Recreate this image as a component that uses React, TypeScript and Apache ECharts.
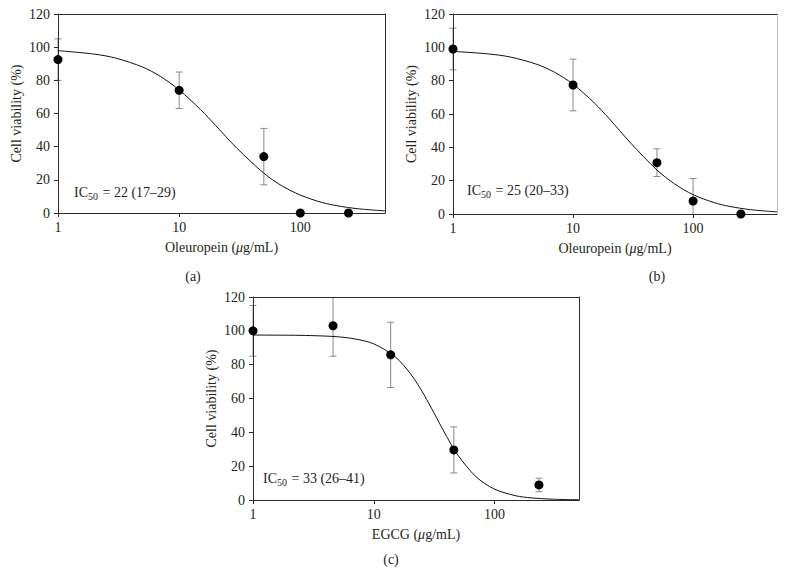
import React, { useEffect, useRef } from "react";
import * as echarts from "echarts";

// Measured points (concentration µg/mL, viability %, error ±)
const xA = [1, 10, 50, 100, 250];
const yA = [92.5, 74, 34, 0, 0];
const errA = [12.5, 11, 17, 0, 0];

const xB = [1, 10, 50, 100, 250];
const yB = [99, 77.4, 30.8, 7.8, 0];
const errB = [12.5, 15.5, 8.3, 13.5, 0];

const xC = [1, 4.6, 13.8, 46, 233];
const yC = [100, 103, 85.8, 29.6, 8.9];
const errC = [15, 18, 19.3, 13.6, 4];

// Fitted curves
const curveXAB = [1, 2, 3, 5, 7, 10, 15, 20, 30, 50, 70, 100, 150, 200, 300, 500];
const curveA = [97.9, 95.8, 93.4, 88.0, 82.4, 74.2, 62.4, 52.8, 39.0, 24.0, 16.5, 10.8, 6.4, 4.4, 2.55, 1.27];
const curveB = [97.6, 96.0, 94.2, 89.8, 85.1, 77.9, 66.7, 57.2, 42.8, 26.4, 18.1, 11.6, 6.8, 4.6, 2.6, 1.26];
const curveXC = [1, 2, 3, 5, 7, 10, 15, 20, 25, 30, 40, 50, 70, 100, 150, 200, 300, 500];
const curveC = [97.5, 97.4, 97.2, 96.5, 95.2, 92.3, 84.7, 74.9, 64.4, 54.3, 37.7, 26.3, 13.8, 6.4, 2.5, 1.27, 0.49, 0.14];

const xTickValues = [1, 10, 100];
const yTickValues = [0, 20, 40, 60, 80, 100, 120];

const xNames = ["Oleuropein", "Oleuropein", "EGCG"];
const ic50Texts = ["22 (17–29)", "25 (20–33)", "33 (26–41)"];
const panelLabels = ["(a)", "(b)", "(c)"];

const FONT = "'Liberation Serif', 'Times New Roman', serif";
const FS = 14;
const TEXT = "#231f20";
const AXIS = "#2b2b2b";

export default function App() {
  const ref = useRef<HTMLDivElement>(null);

  useEffect(() => {
    if (!ref.current) return;
    const chart = echarts.init(ref.current, undefined, { renderer: "svg" });

    const grids = [
      { left: 58, top: 14, width: 327, height: 199 },
      { left: 453, top: 14, width: 324, height: 200 },
      { left: 253, top: 297, width: 326, height: 203 },
    ];
    const rightBorder = [AXIS, "#bdbdbd", AXIS];

    const xAxis: any[] = [];
    const yAxis: any[] = [];
    grids.forEach((g, i) => {
      xAxis.push({
        type: "log",
        logBase: 10,
        gridIndex: i,
        min: 1,
        max: 500,
        position: "bottom",
        z: 3,
        name: `${xNames[i]} ({i|μ}g/mL)`,
        nameLocation: "middle",
        nameGap: 27,
        nameTextStyle: {
          fontFamily: FONT,
          fontSize: FS,
          color: TEXT,
          rich: { i: { fontFamily: FONT, fontSize: FS, fontStyle: "italic", color: TEXT } },
        },
        axisLine: { onZero: false, lineStyle: { color: AXIS, width: 1 } },
        axisTick: { show: true, length: 4, customValues: xTickValues, lineStyle: { color: AXIS } },
        axisLabel: {
          customValues: xTickValues,
          margin: 7,
          fontFamily: FONT,
          fontSize: FS,
          color: TEXT,
          formatter: (v: number) => String(Math.round(v)),
        },
        splitLine: { show: false },
        minorTick: { show: false },
      });
      xAxis.push({
        type: "log",
        logBase: 10,
        gridIndex: i,
        min: 1,
        max: 500,
        position: "top",
        z: 3,
        axisLine: { show: true, onZero: false, lineStyle: { color: AXIS, width: 1 } },
        axisTick: { show: false },
        axisLabel: { show: false },
        splitLine: { show: false },
      });
      yAxis.push({
        type: "value",
        gridIndex: i,
        min: 0,
        max: 120,
        interval: 20,
        position: "left",
        z: 3,
        name: "Cell viability (%)",
        nameLocation: "middle",
        nameGap: 35,
        nameTextStyle: { fontFamily: FONT, fontSize: FS, color: TEXT },
        axisLine: { show: true, onZero: false, lineStyle: { color: AXIS, width: 1 } },
        axisTick: { show: true, length: 4, lineStyle: { color: AXIS } },
        axisLabel: {
          margin: 8,
          fontFamily: FONT,
          fontSize: FS,
          color: TEXT,
          customValues: yTickValues,
        },
        splitLine: { show: false },
      });
      yAxis.push({
        type: "value",
        gridIndex: i,
        min: 0,
        max: 120,
        interval: 20,
        position: "right",
        z: 3,
        axisLine: { show: true, onZero: false, lineStyle: { color: rightBorder[i], width: 1 } },
        axisTick: { show: false },
        axisLabel: { show: false },
        splitLine: { show: false },
      });
    });

    const errRender = (params: any, api: any) => {
      const x = api.value(0);
      const lo = api.value(1);
      const hi = api.value(2);
      const cs = params.coordSys;
      const pLo = api.coord([x, lo]);
      const pHi = api.coord([x, hi]);
      const top = cs.y;
      const bottom = cs.y + cs.height;
      const yHi = Math.max(pHi[1], top);
      const yLo = Math.min(pLo[1], bottom);
      const px = pLo[0];
      const w = 3.5;
      const style = { stroke: "#8a8a8a", lineWidth: 1 };
      const children: any[] = [
        { type: "line", shape: { x1: px, y1: yHi, x2: px, y2: yLo }, style },
      ];
      if (pHi[1] >= top) children.push({ type: "line", shape: { x1: px - w, y1: yHi, x2: px + w, y2: yHi }, style });
      if (pLo[1] <= bottom) children.push({ type: "line", shape: { x1: px - w, y1: yLo, x2: px + w, y2: yLo }, style });
      return { type: "group", children };
    };

    const panels = [
      { x: xA, y: yA, e: errA, cx: curveXAB, cy: curveA },
      { x: xB, y: yB, e: errB, cx: curveXAB, cy: curveB },
      { x: xC, y: yC, e: errC, cx: curveXC, cy: curveC },
    ];

    const series: any[] = [];
    panels.forEach((p, i) => {
      const xi = i * 2;
      const yi = i * 2;
      series.push({
        type: "custom",
        xAxisIndex: xi,
        yAxisIndex: yi,
        z: 1,
        clip: false,
        renderItem: errRender,
        data: p.x
          .map((x, k) => [x, p.y[k] - p.e[k], p.y[k] + p.e[k], p.e[k]])
          .filter((d) => d[3] > 0),
        encode: { x: 0, y: [1, 2] },
        silent: true,
      });
      series.push({
        type: "line",
        xAxisIndex: xi,
        yAxisIndex: yi,
        z: 4,
        smooth: 0.3,
        showSymbol: false,
        symbol: "none",
        lineStyle: { color: "#111", width: 1 },
        data: p.cx.map((x, k) => [x, p.cy[k]]),
        silent: true,
      });
      series.push({
        type: "scatter",
        xAxisIndex: xi,
        yAxisIndex: yi,
        z: 5,
        clip: false,
        symbol: "circle",
        symbolSize: 9,
        itemStyle: { color: "#000", opacity: 1 },
        data: p.x.map((x, k) => [x, p.y[k]]),
        silent: true,
      });
    });

    const icPos = [
      [74, 184],
      [467, 182],
      [263, 470],
    ];
    const labelPos = [
      [193, 276],
      [657, 276],
      [391, 559],
    ];

    const graphic: any[] = [];
    icPos.forEach((pos, i) => {
      graphic.push({
        type: "text",
        x: pos[0],
        y: pos[1],
        z: 10,
        style: {
          text: `IC{sub|50} = ${ic50Texts[i]}`,
          font: `${FS}px ${FONT}`,
          fill: TEXT,
          rich: {
            sub: { fontFamily: FONT, fontSize: 10, fill: TEXT, padding: [7, 1, 0, 0], verticalAlign: "bottom" },
          },
        },
      });
    });
    labelPos.forEach((pos, i) => {
      graphic.push({
        type: "text",
        x: pos[0],
        y: pos[1],
        style: {
          text: panelLabels[i],
          font: `${FS}px ${FONT}`,
          fill: TEXT,
          align: "center",
          verticalAlign: "middle",
        },
      });
    });

    chart.setOption({
      animation: false,
      backgroundColor: "#ffffff",
      grid: grids.map((g) => ({ ...g, containLabel: false })),
      xAxis,
      yAxis,
      series,
      graphic,
    });

    return () => chart.dispose();
  }, []);

  return (
    <div
      ref={ref}
      style={{ position: "fixed", left: 0, top: 0, width: 786, height: 574, background: "#fff" }}
    />
  );
}
